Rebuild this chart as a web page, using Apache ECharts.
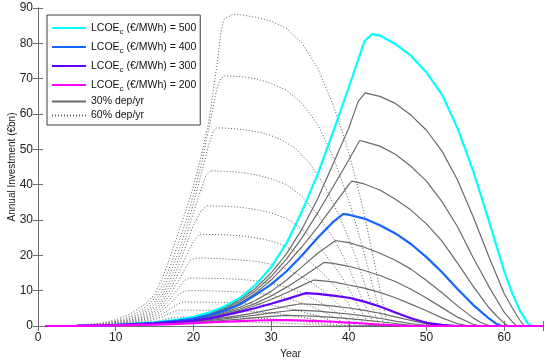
<!DOCTYPE html>
<html><head><meta charset="utf-8">
<script src="https://cdn.jsdelivr.net/npm/echarts@6/dist/echarts.min.js"></script>
<style>html,body{margin:0;padding:0;background:#fff}#c{width:550px;height:364px}</style>
</head><body><div id="c"></div>
<script>
// Tick labels
const xTicks = [0, 10, 20, 30, 40, 50, 60];
const yTicks = [0, 10, 20, 30, 40, 50, 60, 70, 80, 90];
const lcoeLevels = [500, 475, 450, 425, 400, 375, 350, 325, 300, 275, 250, 225, 200];
const highlighted = [500, 400, 300, 200];

// 30% dep/yr curves: [year, annual investment €bn]
const c30_500 = [[1,0],[5,0.05],[10,0.3],[15,1.0],[18,1.8],[20,2.6],[22,3.8],[24,5.5],[26,8.0],[28,11.6],[30,16.6],[32,23.5],[34,32.5],[36,43],[38,55],[40,67.5],[42,80.5],[43,82.6],[44,82.2],[46,79.8],[48,76.5],[50,71.8],[52,65.5],[54,56],[56,44],[58,30],[60,15.5],[61,9.5],[62,4.5],[63,0.8],[63.5,0],[65,0]];
const c30_475 = [[1,0],[5,0.05],[10,0.3],[15,1.0],[18,1.7],[20,2.5],[22,3.6],[24,5.2],[26,7.5],[28,10.7],[30,15],[32,20.5],[34,27.5],[36,36],[38,46],[40,56],[41.2,63.5],[42.1,66],[44,65],[46,63],[48,59.7],[50,55.4],[52,49.5],[54,41.3],[56,31],[58,19.8],[60,9.2],[61,5.3],[62,1.7],[62.6,0],[65,0]];
const c30_450 = [[1,0],[5,0.05],[10,0.3],[15,0.95],[18,1.65],[20,2.4],[22,3.4],[24,4.9],[26,7.0],[28,10],[30,14],[32,19],[34,25],[36,32],[38,39.5],[40,47],[41.4,52.5],[42,52.2],[44,50.9],[46,48.6],[48,45.2],[50,41],[52,35.2],[54,28.1],[56,19.4],[58,11.3],[60,3.9],[61,1.3],[61.6,0],[65,0]];
const c30_425 = [[1,0],[5,0.05],[10,0.3],[15,0.93],[18,1.6],[20,2.25],[22,3.2],[24,4.6],[26,6.5],[28,9.3],[30,13],[32,17.5],[34,22.5],[36,28],[38,34],[40,40],[40.4,41],[42,40.2],[44,38.5],[46,35.9],[48,32.8],[50,28.9],[52,24],[54,17.8],[56,11.3],[58,5.3],[59,2.9],[60,0.8],[60.6,0],[65,0]];
const c30_400 = [[1,0],[5,0.05],[10,0.3],[15,0.9],[18,1.5],[20,2.1],[22,3.0],[24,4.3],[26,6.1],[28,8.8],[30,11.8],[32,15.5],[34,20],[36,25],[38,29.5],[39.3,31.7],[40,31.5],[42,30.4],[44,28.5],[46,26.2],[48,23.2],[50,19.5],[52,15.2],[54,10.5],[56,6],[58,2.2],[59,0.6],[59.7,0],[65,0]];
const c30_375 = [[1,0],[5,0.05],[10,0.28],[15,0.85],[18,1.45],[20,2.0],[22,2.8],[24,3.9],[26,5.3],[28,7.2],[30,9.8],[32,13],[34,16.8],[36,20.6],[38.3,24.2],[40,23.6],[42,22.3],[44,20.6],[46,18.6],[48,16.1],[50,12.9],[52,9.4],[54,5.7],[56,2.3],[57,1],[58.2,0],[65,0]];
const c30_350 = [[1,0],[5,0.05],[10,0.27],[15,0.8],[18,1.4],[20,1.85],[22,2.6],[24,3.6],[26,4.8],[28,6.4],[30,8.5],[32,11],[34,13.8],[36,16.8],[36.8,18],[38,17.7],[40,16.9],[42,15.7],[44,14.3],[46,12.6],[48,10.4],[50,7.9],[52,5.2],[54,2.5],[56,0.5],[56.9,0],[65,0]];
const c30_325 = [[1,0],[5,0.05],[10,0.26],[15,0.75],[18,1.3],[20,1.7],[22,2.4],[24,3.3],[26,4.4],[28,5.8],[30,7.5],[32,9.4],[34,11.5],[35.5,13],[36,12.9],[38,12.5],[40,11.6],[42,10.7],[44,9.5],[46,8],[48,6.2],[50,4.3],[52,2.3],[54,0.65],[55.4,0],[65,0]];
const c30_300 = [[1,0],[5,0.05],[10,0.25],[15,0.7],[18,1.2],[20,1.5],[22,2.1],[24,3.0],[26,4.0],[28,5.1],[30,6.3],[32,7.6],[34,9.0],[34.5,9.3],[36,9.1],[38,8.6],[40,8.0],[42,6.9],[44,5.5],[46,3.8],[48,2.2],[50,0.9],[52,0.3],[53.8,0],[65,0]];
const c30_275 = [[1,0],[5,0.04],[10,0.22],[15,0.6],[18,1.0],[20,1.3],[22,1.75],[24,2.35],[26,3.0],[28,3.8],[30,4.7],[32,5.6],[33.8,6.3],[36,6.05],[38,5.6],[40,5.1],[42,4.4],[44,3.6],[46,2.6],[48,1.6],[50,0.6],[52,0],[65,0]];
const c30_250 = [[1,0],[5,0.04],[10,0.2],[15,0.52],[18,0.85],[20,1.1],[22,1.5],[24,2.0],[26,2.55],[28,3.1],[30,3.7],[32,4.25],[33,4.5],[34,4.45],[36,4.2],[38,3.8],[40,3.4],[42,2.85],[44,2.2],[46,1.4],[48,0.7],[50,0.1],[50.5,0],[65,0]];
const c30_225 = [[1,0],[5,0.03],[10,0.18],[15,0.45],[18,0.75],[20,0.95],[22,1.25],[24,1.6],[26,1.95],[28,2.35],[30,2.7],[32,3.0],[34,2.9],[36,2.7],[38,2.45],[40,2.1],[42,1.65],[44,1.2],[46,0.7],[48,0.2],[49,0],[65,0]];
const c30_200 = [[1,0],[5,0.03],[10,0.15],[15,0.4],[18,0.62],[20,0.8],[22,1.0],[24,1.2],[26,1.38],[28,1.55],[30.5,1.7],[32,1.68],[34,1.55],[36,1.4],[38,1.2],[40,0.95],[42,0.7],[44,0.4],[46,0.15],[47,0],[65,0]];

// 60% dep/yr curves
const c60_500 = [[1,0],[5,0.2],[8,0.8],[10,1.8],[11,2.6],[12,3.6],[13,5.0],[14,6.6],[15,9.0],[16,13.5],[17,19.5],[18,26],[19,32.5],[20,39.5],[21,48],[22,58],[23,73.4],[23.6,84],[24,87],[25,88.1],[25.5,88.2],[26,88.1],[28,87.4],[30,86.3],[32,84.2],[34,80],[36,73],[38,62.5],[39,56],[40,49],[41,40.8],[42,31.5],[43,21],[44,10.5],[44.7,3],[45.2,0],[65,0]];
const c60_475 = [[1,0],[5,0.15],[8,0.6],[10,1.4],[11,2.0],[12,2.9],[13,4.1],[14,5.6],[15,7.8],[16,11.5],[17,16.8],[18,23],[19,29.5],[20,37],[21,45.5],[22,56],[23,67],[23.5,70],[24,70.8],[26,70.6],[28,70],[30,68.7],[32,66.7],[34,63],[36,57],[38,47.8],[40,35.4],[41,28.3],[42,20.5],[43,12],[44,4.2],[44.6,0],[65,0]];
const c60_450 = [[1,0],[5,0.12],[8,0.5],[10,1.15],[11,1.65],[12,2.4],[13,3.4],[14,4.8],[15,6.8],[16,10],[17,14.8],[18,20.5],[19,27],[20,34.5],[21,43],[22,51.5],[22.6,55.2],[23,56.1],[25,55.9],[27,55.4],[29,54.6],[31,53.1],[33,50.5],[35,46],[37,39.3],[39,30],[40,24.7],[41,18.8],[42,12.3],[43,5.3],[44,0],[65,0]];
const c60_425 = [[1,0],[5,0.1],[8,0.42],[10,0.95],[11,1.4],[12,2.05],[13,2.95],[14,4.2],[15,6.0],[16,8.8],[17,13],[18,18.5],[19,24.8],[20,32],[21,38.8],[21.6,42.5],[22.2,43.9],[24,43.8],[26,43.5],[28,42.8],[30,41.7],[32,40],[34,36.7],[36,31.6],[38,25],[39,20.9],[40,16.5],[41,11.4],[42,6.1],[43,1.8],[43.4,0],[65,0]];
const c60_400 = [[1,0],[5,0.08],[8,0.35],[10,0.8],[11,1.2],[12,1.75],[13,2.55],[14,3.7],[15,5.3],[16,7.7],[17,11.5],[18,16.5],[19,22.5],[20,28.5],[21,32.6],[21.7,34],[24,33.9],[26,33.6],[28,33],[30,32],[32,30.4],[34,27.5],[36,23.1],[38,17.3],[39,14.3],[40,10.5],[41,6.5],[42,2.7],[42.8,0],[65,0]];
const c60_375 = [[1,0],[5,0.07],[8,0.3],[10,0.68],[11,1.0],[12,1.5],[13,2.2],[14,3.2],[15,4.6],[16,6.8],[17,10.2],[18,14.5],[19,19.5],[20,24],[20.8,26],[23,25.9],[25,25.7],[27,25.3],[29,24.6],[31,23.4],[33,21.3],[35,18.2],[37,14.2],[38,11.7],[39,9.1],[40,6.1],[41,3],[42,0.5],[42.2,0],[65,0]];
const c60_350 = [[1,0],[5,0.06],[8,0.25],[10,0.58],[11,0.86],[12,1.28],[13,1.9],[14,2.8],[15,4.1],[16,6.0],[17,8.8],[18,12.5],[19,16.5],[19.6,18.6],[20.2,19.2],[22,19.2],[24,19],[26,18.7],[28,18.3],[30,17.5],[32,16.1],[34,14],[36,11.1],[37,9.4],[38,7.5],[39,5.4],[40,3.2],[41,1.2],[41.6,0],[65,0]];
const c60_325 = [[1,0],[5,0.05],[8,0.2],[10,0.48],[11,0.72],[12,1.08],[13,1.6],[14,2.4],[15,3.5],[16,5.2],[17,7.6],[18,10.5],[18.8,12.8],[19.5,13.6],[22,13.5],[24,13.4],[26,13.2],[28,12.8],[30,12.1],[32,11],[34,9.4],[36,7.1],[37,5.8],[38,4.5],[39,2.9],[40,1.3],[41,0],[65,0]];
const c60_300 = [[1,0],[5,0.04],[8,0.17],[10,0.4],[11,0.6],[12,0.9],[13,1.35],[14,2.0],[15,2.95],[16,4.4],[17,6.3],[18,8.6],[18.6,9.6],[19.2,10],[21,10],[23,9.9],[25,9.75],[27,9.5],[29,9.1],[31,8.35],[33,7.2],[35,5.7],[36,4.75],[37,3.75],[38,2.6],[39,1.4],[40,0.4],[40.4,0],[65,0]];
const c60_275 = [[1,0],[5,0.03],[8,0.14],[10,0.32],[11,0.48],[12,0.72],[13,1.08],[14,1.6],[15,2.35],[16,3.4],[17,4.8],[18,6.2],[18.7,6.8],[21,6.78],[23,6.72],[25,6.6],[27,6.4],[29,6.07],[31,5.5],[33,4.6],[35,3.45],[36,2.85],[37,2.1],[38,1.3],[39,0.55],[39.8,0],[65,0]];
const c60_250 = [[1,0],[5,0.03],[8,0.11],[10,0.26],[11,0.38],[12,0.57],[13,0.85],[14,1.25],[15,1.8],[16,2.6],[17,3.6],[17.6,4.2],[18.2,4.5],[20,4.49],[22,4.45],[24,4.37],[26,4.25],[28,4.05],[30,3.7],[32,3.2],[34,2.5],[35,2.07],[36,1.6],[37,1.07],[38,0.5],[39.2,0],[65,0]];
const c60_225 = [[1,0],[5,0.02],[8,0.08],[10,0.18],[11,0.27],[12,0.4],[13,0.58],[14,0.85],[15,1.2],[16,1.7],[17,2.25],[17.7,2.5],[20,2.49],[22,2.47],[24,2.42],[26,2.35],[28,2.22],[30,2.0],[32,1.66],[34,1.25],[35,1.0],[36,0.72],[37,0.43],[38,0.15],[38.6,0],[65,0]];
const c60_200 = [[1,0],[5,0.01],[8,0.05],[10,0.11],[11,0.16],[12,0.23],[13,0.33],[14,0.47],[15,0.66],[16,0.92],[16.6,1.1],[17.2,1.2],[20,1.2],[22,1.18],[24,1.16],[26,1.12],[28,1.05],[30,0.93],[32,0.77],[34,0.55],[36,0.27],[37,0.12],[38,0],[65,0]];

const dep30 = [c30_500, c30_475, c30_450, c30_425, c30_400, c30_375, c30_350, c30_325, c30_300, c30_275, c30_250, c30_225, c30_200];
const dep60 = [c60_500, c60_475, c60_450, c60_425, c60_400, c60_375, c60_350, c60_325, c60_300, c60_275, c60_250, c60_225, c60_200];
const hiColors = {500: '#00ffff', 400: '#1464ff', 300: '#6400ff', 200: '#ff00ff'};

const FONT = '"Liberation Sans", Arial, Helvetica, sans-serif';
const series = [];
dep60.forEach(function (d) {
  series.push({ name: '60% dep/yr', type: 'line', data: d, symbol: 'none', showSymbol: false,
    lineStyle: { color: '#5a5a5a', width: 1, type: [1, 2] }, z: 2, silent: true });
});
lcoeLevels.forEach(function (l, i) {
  if (highlighted.indexOf(l) >= 0) return;
  series.push({ name: '30% dep/yr', type: 'line', data: dep30[i], symbol: 'none', showSymbol: false,
    lineStyle: { color: '#6a6a6a', width: 1.2 }, z: 3, silent: true });
});
highlighted.forEach(function (l, k) {
  const i = lcoeLevels.indexOf(l);
  series.push({ name: 'LCOE' + l, type: 'line', data: dep30[i], symbol: 'none', showSymbol: false,
    lineStyle: { color: hiColors[l], width: 2.2 }, itemStyle: { color: hiColors[l] }, z: 4 + k, silent: true });
});

const axisCol = '#6e6e6e';
const option = {
  animation: false,
  backgroundColor: '#fff',
  grid: { left: 38, right: 7, top: 8, bottom: 38, containLabel: false, outerBoundsMode: 'none' },
  legend: {
    data: highlighted.map(function (l) { return 'LCOE' + l; }).concat(['30% dep/yr', '60% dep/yr']),
    orient: 'vertical', left: 47, top: 15,
    padding: [5, 4, 4, 4], itemGap: 3, itemWidth: 34, itemHeight: 2,
    borderColor: '#3c3c3c', borderWidth: 1, backgroundColor: '#fff',
    itemStyle: { opacity: 0 },
    formatter: function (name) {
      if (name.indexOf('LCOE') === 0) return '{a|LCOE}{s|c}{a| (€/MWh) = ' + name.slice(4) + '}';
      return '{p|' + name + '}';
    },
    textStyle: {
      fontFamily: FONT, fontSize: 10.5, color: '#111',
      rich: {
        a: { fontFamily: FONT, fontSize: 10.5, lineHeight: 17, color: '#111' },
        s: { fontFamily: FONT, fontSize: 8, lineHeight: 9, padding: [8, 0, 0, 0], color: '#111' },
        p: { fontFamily: FONT, fontSize: 10.5, lineHeight: 13, color: '#111' }
      }
    }
  },
  xAxis: [{
    type: 'value', min: 0, max: 65, interval: 10,
    name: 'Year', nameLocation: 'middle', nameGap: 21,
    nameTextStyle: { fontFamily: FONT, fontSize: 10.5, color: '#222' },
    axisLine: { show: true, lineStyle: { color: axisCol, width: 1 } },
    axisTick: { show: true, inside: true, length: 5, lineStyle: { color: axisCol } },
    axisLabel: { fontFamily: FONT, fontSize: 12, color: '#222', margin: 6,
      formatter: function (v) { return xTicks.indexOf(v) >= 0 ? String(v) : ''; } },
    splitLine: { show: false }
  }, {
    type: 'value', min: 0, max: 65, interval: 10, position: 'top',
    axisLine: { show: true, lineStyle: { color: axisCol, width: 1 } },
    axisTick: { show: true, inside: true, length: 5, lineStyle: { color: axisCol } },
    axisLabel: { show: false }, splitLine: { show: false }
  }],
  yAxis: [{
    type: 'value', min: 0, max: 90, interval: 10,
    name: 'Annual Investment (€bn)', nameLocation: 'middle', nameGap: 21, nameRotate: 90,
    nameMoveOverlap: false,
    nameTextStyle: { fontFamily: FONT, fontSize: 10, color: '#222' },
    axisLine: { show: true, lineStyle: { color: axisCol, width: 1 } },
    axisTick: { show: true, inside: true, length: 5, lineStyle: { color: axisCol } },
    axisLabel: { fontFamily: FONT, fontSize: 12, color: '#222', margin: 5,
      formatter: function (v) { return yTicks.indexOf(v) >= 0 ? String(v) : ''; } },
    splitLine: { show: false }
  }, {
    type: 'value', min: 0, max: 90, interval: 10, position: 'right',
    axisLine: { show: true, lineStyle: { color: axisCol, width: 1 } },
    axisTick: { show: true, inside: true, length: 5, lineStyle: { color: axisCol } },
    axisLabel: { show: false }, splitLine: { show: false }
  }],
  series: series
};
const chart = echarts.init(document.getElementById('c'), null, { renderer: 'canvas' });
chart.setOption(option);
</script>
</body></html>
